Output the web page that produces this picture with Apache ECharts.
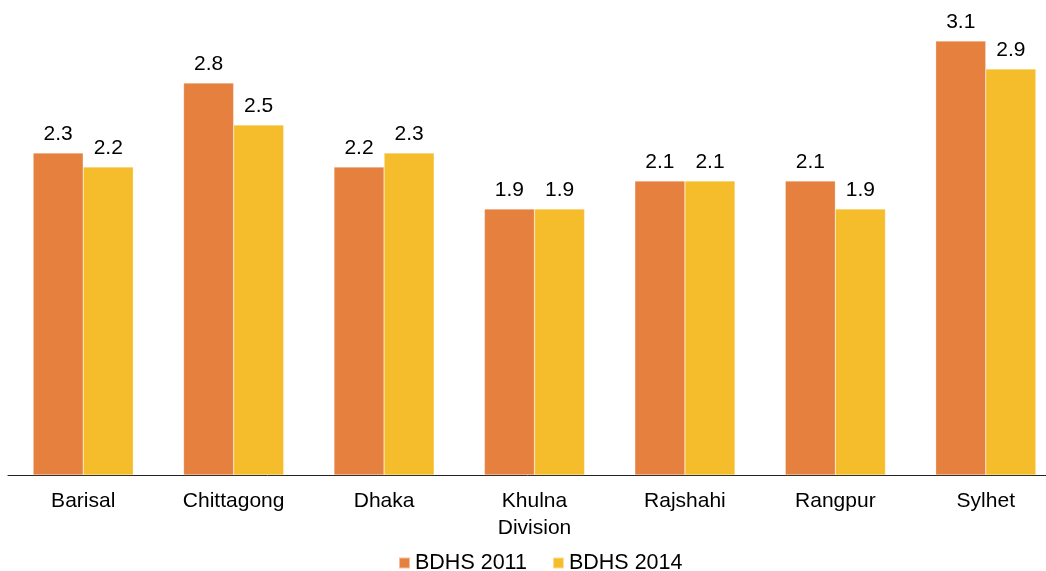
<!DOCTYPE html>
<html><head><meta charset="utf-8">
<script src="https://cdn.jsdelivr.net/npm/echarts@6/dist/echarts.min.js"></script>
<style>html,body{margin:0;padding:0;background:#fff}#c{width:1046px;height:571px}</style>
</head><body><div id="c"></div>
<script>
const categories = ['Barisal','Chittagong','Dhaka','Khulna\nDivision','Rajshahi','Rangpur','Sylhet'];
const bdhs2011 = [2.3, 2.8, 2.2, 1.9, 2.1, 2.1, 3.1];
const bdhs2014 = [2.2, 2.5, 2.3, 1.9, 2.1, 1.9, 2.9];
const seriesNames = ['BDHS 2011','BDHS 2014'];
const font = 'Liberation Sans, Arial, sans-serif';
const fs = 21;
const chart = echarts.init(document.getElementById('c'), null, {renderer:'canvas'});
const lbl = {show:true, position:'top', distance:8, color:'#000', fontSize:fs, fontFamily:font,
  formatter: p => p.value.toFixed(1)};
chart.setOption({
  animation:false,
  grid:{left:8, width:1053, top:27, height:448, containLabel:false, outerBoundsMode:'none'},
  legend:{top:547, left:393, itemWidth:11, itemHeight:11, itemGap:25, icon:'rect',
    textStyle:{fontSize:21.5, fontFamily:font, color:'#000'}, data:seriesNames},
  xAxis:{type:'category', data:categories,
    axisLine:{lineStyle:{color:'#222', width:1}}, axisTick:{show:false},
    axisLabel:{fontSize:fs, fontFamily:font, color:'#000', margin:13, lineHeight:27}},
  yAxis:{type:'value', min:0, max:3.2, show:false, splitLine:{show:false}},
  series:[
    {name:seriesNames[0], type:'bar', data:bdhs2011, barGap:'0%', barCategoryGap:'33.4%',
     itemStyle:{color:'#E6803F', borderColor:'rgba(255,255,255,0.5)', borderWidth:0.5}, label:lbl},
    {name:seriesNames[1], type:'bar', data:bdhs2014,
     itemStyle:{color:'#F5BD2C', borderColor:'rgba(255,255,255,0.5)', borderWidth:0.5}, label:lbl}
  ]
});
</script></body></html>
